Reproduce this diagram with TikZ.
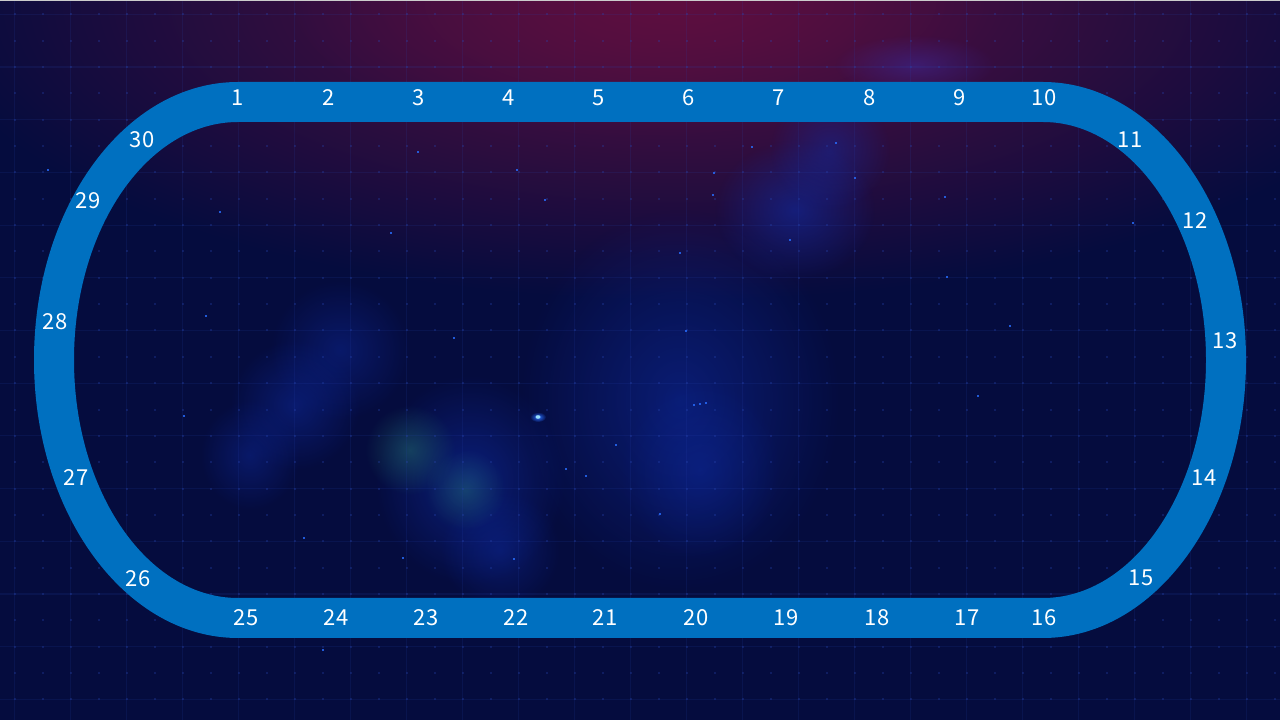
\documentclass[tikz,border=0pt]{standalone}
\usepackage{fontspec}
\setmainfont{Noto Sans CJK SC}
\usetikzlibrary{fadings}
\tikzfading[name=glowfade, inner color=transparent!0, outer color=transparent!100]
\definecolor{bg}{HTML}{050C3E}
\definecolor{trackc}{HTML}{0070C0}
\definecolor{redglow}{HTML}{5E0F40}
\definecolor{gridc}{RGB}{40,70,180}
\definecolor{nebblue}{RGB}{15,45,170}
\definecolor{nebteal}{RGB}{35,110,110}
\definecolor{nebpurple}{RGB}{60,40,150}
\definecolor{starc}{RGB}{40,110,255}
\begin{document}
\begin{tikzpicture}[x=1pt,y=1pt,
  lbl/.style={text=white, font=\fontsize{22}{22}\selectfont, inner sep=0pt},
  glow/.style={fill=#1, path fading=glowfade},
  gridline/.style={draw=gridc, opacity=0.14, line width=1.1pt},
  griddot/.style={fill=gridc, opacity=0.3},
  star/.style={fill=starc, opacity=0.8}]
\useasboundingbox (0,0) rectangle (1280,720);
% background
\fill[bg] (0,0) rectangle (1280,720);
\fill[glow=redglow] (680,720) ellipse [x radius=760, y radius=300];
\fill[glow=redglow, opacity=0.6] (640,720) ellipse [x radius=360, y radius=140];
% nebulae
\fill[glow=nebblue, opacity=0.5] (680,320) ellipse [x radius=160, y radius=190];
\fill[glow=nebblue, opacity=0.4] (700,250) ellipse [x radius=80, y radius=90];
\fill[glow=nebblue, opacity=0.55] (795,510) ellipse [x radius=80, y radius=70];
\fill[glow=nebblue, opacity=0.45] (830,570) ellipse [x radius=60, y radius=60];
\fill[glow=nebpurple, opacity=0.55] (915,655) ellipse [x radius=80, y radius=30];
\fill[glow=nebblue, opacity=0.4] (340,370) ellipse [x radius=70, y radius=70];
\fill[glow=nebblue, opacity=0.45] (295,315) ellipse [x radius=65, y radius=65];
\fill[glow=nebblue, opacity=0.4] (250,265) ellipse [x radius=50, y radius=55];
\fill[glow=nebblue, opacity=0.55] (470,240) ellipse [x radius=95, y radius=105];
\fill[glow=nebblue, opacity=0.4] (500,170) ellipse [x radius=60, y radius=60];
\fill[glow=nebteal, opacity=0.5] (410,270) ellipse [x radius=45, y radius=45];
\fill[glow=nebteal, opacity=0.45] (465,230) ellipse [x radius=40, y radius=40];
% grid
\foreach \i in {0,...,22} {\draw[gridline] ({14.7+56*\i},0) -- ({14.7+56*\i},720);}
\foreach \j in {0,...,13} {\draw[gridline] (0,{720-14.3-52.7*\j}) -- (1280,{720-14.3-52.7*\j});}
\foreach \i in {0,...,45} {\foreach \j in {0,...,27} {
  \fill[griddot] ({14.7+28*\i-1},{720-14.3-26.35*\j-1}) rectangle ++(2,2);}}
% stars
\foreach \sx/\sy in {517/170,418/152,752/147,790/240,680/253,686/331,454/338,566/469,586/476,304/538,403/558,184/416,48/170,206/316,978/396,1133/223,947/277,514/559,660/514,700/404,706/403,694/405,391/233,220/212,545/200,714/173,836/143,945/197,1010/326,323/650,855/178,616/445,713/195} {
  \fill[star] (\sx-1,720-\sy-1) rectangle ++(2,2);}
\fill[glow=starc] (538,303) ellipse [x radius=8, y radius=5];
\fill[white!60!cyan] (538,303) ellipse [x radius=2.5, y radius=1.8];
% top edge line
\draw[gray!40, line width=1.5pt] (0,720) -- (1280,720);
% track
\fill[trackc, even odd rule]
  (238,638) -- (1043,638) arc[start angle=90, end angle=-90, x radius=203, y radius=278]
  -- (238,82) arc[start angle=270, end angle=90, x radius=204, y radius=278] -- cycle
  (238,598) -- (1043,598) arc[start angle=90, end angle=-90, x radius=163, y radius=238]
  -- (238,122) arc[start angle=270, end angle=90, x radius=164, y radius=238] -- cycle;
% labels
\node[lbl] (n1) at (238,622) {1};
\node[lbl] (n2) at (329,622) {2};
\node[lbl] (n3) at (419,622) {3};
\node[lbl] (n4) at (509,622) {4};
\node[lbl] (n5) at (599,622) {5};
\node[lbl] (n6) at (689,622) {6};
\node[lbl] (n7) at (779,622) {7};
\node[lbl] (n8) at (870,622) {8};
\node[lbl] (n9) at (960,622) {9};
\node[lbl] (n10) at (1044,622) {10};
\node[lbl] (n11) at (1130,580) {11};
\node[lbl] (n12) at (1195,499) {12};
\node[lbl] (n13) at (1225,379) {13};
\node[lbl] (n14) at (1204,242) {14};
\node[lbl] (n15) at (1141,142) {15};
\node[lbl] (n16) at (1044,102) {16};
\node[lbl] (n17) at (967,102) {17};
\node[lbl] (n18) at (877,102) {18};
\node[lbl] (n19) at (786,102) {19};
\node[lbl] (n20) at (696,102) {20};
\node[lbl] (n21) at (605,102) {21};
\node[lbl] (n22) at (516,102) {22};
\node[lbl] (n23) at (426,102) {23};
\node[lbl] (n24) at (336,102) {24};
\node[lbl] (n25) at (246,102) {25};
\node[lbl] (n26) at (138,141) {26};
\node[lbl] (n27) at (76,242) {27};
\node[lbl] (n28) at (55,398) {28};
\node[lbl] (n29) at (88,519) {29};
\node[lbl] (n30) at (142,580) {30};
\end{tikzpicture}
\end{document}
